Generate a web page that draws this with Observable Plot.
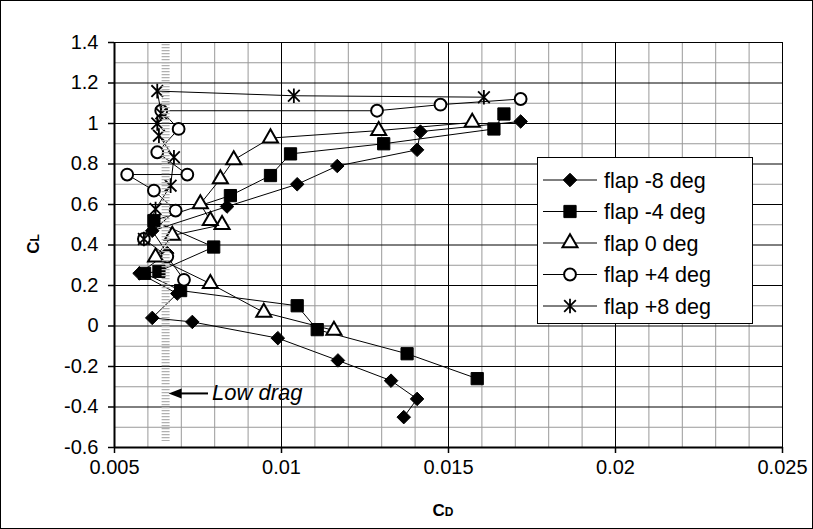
<!DOCTYPE html>
<html><head><meta charset="utf-8">
<script src="https://cdn.jsdelivr.net/npm/d3@7"></script>
<script src="https://cdn.jsdelivr.net/npm/@observablehq/plot@0.6"></script>
<style>
html,body{margin:0;padding:0;background:#fff;}
#wrap{position:relative;width:811px;height:527px;border:1px solid #000;overflow:hidden;background:#fff;}
#wrap svg{display:block;}
#legend{position:absolute;left:536px;top:156px;}
</style></head><body><div id="wrap"></div>
<script>
// ---- data ----
const seriesNames = ["flap -8 deg", "flap -4 deg", "flap 0 deg", "flap +4 deg", "flap +8 deg"];

const cdFlapM8 = [0.01366, 0.01406, 0.01328, 0.01169, 0.00989, 0.00733, 0.00613, 0.00688, 0.00575, 0.00658, 0.00613, 0.00837, 0.01047, 0.01167, 0.01406, 0.01416, 0.01716];
const clFlapM8 = [-0.45, -0.36, -0.27, -0.17, -0.06, 0.02, 0.04, 0.16, 0.26, 0.36, 0.47, 0.59, 0.70, 0.79, 0.87, 0.96, 1.01];

const cdFlapM4 = [0.01586, 0.01376, 0.01107, 0.01047, 0.00698, 0.00590, 0.00633, 0.00797, 0.00618, 0.00847, 0.00967, 0.01027, 0.01306, 0.01636, 0.01666];
const clFlapM4 = [-0.26, -0.137, -0.018, 0.10, 0.175, 0.26, 0.27, 0.39, 0.52, 0.644, 0.743, 0.85, 0.90, 0.973, 1.047];

const cdFlap0 = [0.01157, 0.00947, 0.00787, 0.00623, 0.00673, 0.00822, 0.00787, 0.00757, 0.00817, 0.00857, 0.00967, 0.01291, 0.01571];
const clFlap0 = [-0.022, 0.067, 0.209, 0.34, 0.447, 0.50, 0.52, 0.603, 0.726, 0.82, 0.928, 0.965, 1.005];

const cdFlapP4 = [0.00708, 0.00658, 0.00588, 0.00683, 0.00618, 0.00538, 0.00718, 0.00628, 0.00692, 0.00640, 0.01286, 0.01476, 0.01716];
const clFlapP4 = [0.228, 0.343, 0.43, 0.57, 0.669, 0.748, 0.748, 0.858, 0.973, 1.063, 1.063, 1.093, 1.121];

const cdFlapP8 = [0.00588, 0.00623, 0.00668, 0.00678, 0.00633, 0.00628, 0.00640, 0.00628, 0.01037, 0.01606];
const clFlapP8 = [0.43, 0.578, 0.693, 0.833, 0.94, 1.0, 1.05, 1.16, 1.137, 1.13];

const xTicks = [0.005, 0.01, 0.015, 0.02, 0.025];
const xTickLabels = ["0.005", "0.01", "0.015", "0.02", "0.025"];
const yTicks = [-0.6, -0.4, -0.2, 0, 0.2, 0.4, 0.6, 0.8, 1, 1.2, 1.4];
const yTickLabels = ["-0.6", "-0.4", "-0.2", "0", "0.2", "0.4", "0.6", "0.8", "1", "1.2", "1.4"];

const lowDragCD = [0.00653];
const lowDragTop = 1.39, lowDragBottom = -0.57;
const lowDragArrow = [{x1: 0.0078, x2: 0.00662, y: -0.333}];
const lowDragLabel = [{x: 0.00792, y: -0.333, text: "Low drag"}];

// ---- build ----
const cds = [cdFlapM8, cdFlapM4, cdFlap0, cdFlapP4, cdFlapP8];
const cls = [clFlapM8, clFlapM4, clFlap0, clFlapP4, clFlapP8];
const seriesRows = seriesNames.map((name, s) => cds[s].map((cd, i) => ({series: name, cd, cl: cls[s][i]})));

const starSymbol = {
  draw(ctx, size) {
    const r = Math.sqrt(size / Math.PI);
    const d = r * 0.8;
    ctx.moveTo(0, -r); ctx.lineTo(0, r);
    ctx.moveTo(-d, -d); ctx.lineTo(d, d);
    ctx.moveTo(-d, d); ctx.lineTo(d, -d);
  }
};
const arrowHead = {
  draw(ctx) {
    ctx.moveTo(0, 0); ctx.lineTo(13, -5); ctx.lineTo(13, 5); ctx.closePath();
  }
};

const markStyles = [
  {symbol: "diamond2", d3sym: d3.symbolDiamond2, fill: "black", stroke: "black", strokeWidth: 1, r: 6.1},
  {symbol: "square", d3sym: d3.symbolSquare, fill: "black", stroke: "black", strokeWidth: 1, r: 6.9},
  {symbol: "triangle", d3sym: d3.symbolTriangle, fill: "white", stroke: "black", strokeWidth: 2, r: 5.6},
  {symbol: "circle", d3sym: d3.symbolCircle, fill: "white", stroke: "black", strokeWidth: 2, r: 5.9},
  {symbol: starSymbol, d3sym: starSymbol, fill: "none", stroke: "black", strokeWidth: 1.8, r: 7.3}
];

const seriesMarks = seriesRows.flatMap((rows, s) => {
  const st = markStyles[s];
  return [
    Plot.line(rows, {x: "cd", y: "cl", stroke: "black", strokeWidth: 1}),
    Plot.dot(rows, {x: "cd", y: "cl", symbol: st.symbol, fill: st.fill, stroke: st.stroke, strokeWidth: st.strokeWidth, r: st.r})
  ];
});

const chart = Plot.plot({
  width: 811, height: 527,
  marginLeft: 113, marginRight: 30, marginTop: 41, marginBottom: 81,
  style: {fontFamily: "'Liberation Sans', Arial, sans-serif", fontSize: "20px", color: "black", background: "white"},
  x: {domain: [0.005, 0.025]},
  y: {domain: [-0.6, 1.4]},
  marks: [
    Plot.gridX(d3.range(0.006, 0.025, 0.001).filter(v => Math.abs(v / 0.005 - Math.round(v / 0.005)) > 1e-6), {stroke: "#999", strokeOpacity: 1, strokeWidth: 1}),
    Plot.gridY(d3.range(-0.5, 1.4, 0.2), {stroke: "#999", strokeOpacity: 1, strokeWidth: 1}),
    Plot.gridX(xTicks, {stroke: "#000", strokeOpacity: 1, strokeWidth: 1}),
    Plot.gridY(yTicks, {stroke: "#000", strokeOpacity: 1, strokeWidth: 1}),
    ...seriesMarks,
    Plot.ruleX(lowDragCD, {y1: lowDragTop, y2: lowDragBottom, stroke: "#b0b0b0", strokeWidth: 8, strokeDasharray: "1.3,1.7"}),
    Plot.link(lowDragArrow, {x1: "x1", x2: d => d.x2 + 0.0003, y1: "y", y2: "y", stroke: "black", strokeWidth: 2}),
    Plot.dot(lowDragArrow, {x: "x2", y: "y", symbol: arrowHead, fill: "black", stroke: "none"}),
    Plot.text(lowDragLabel, {x: "x", y: "y", text: "text", textAnchor: "start", fontStyle: "italic", fontSize: 22, fill: "black"}),
    Plot.axisX(xTicks, {tickSize: 6, tickPadding: 6, tickFormat: (d, i) => xTickLabels[i], label: null, fontSize: 20, strokeWidth: 1.5}),
    Plot.axisY(yTicks, {tickSize: 6, tickPadding: 10, tickFormat: (d, i) => yTickLabels[i], label: null, fontSize: 20, strokeWidth: 1.5}),
    Plot.ruleX([0.005], {stroke: "black", strokeWidth: 2}),
    Plot.ruleY([-0.6], {stroke: "black", strokeWidth: 2})
  ]
});

document.getElementById("wrap").appendChild(chart);

// axis titles
const svg = d3.select(chart);
const xt = svg.append("text").attr("x", 442).attr("y", 515).attr("text-anchor", "middle")
  .attr("font-family", "'Liberation Sans', Arial, sans-serif").attr("font-weight", "bold").attr("font-size", 17).attr("fill", "black");
xt.append("tspan").text("C");
xt.append("tspan").attr("font-size", 12).text("D");
const yt = svg.append("text").attr("transform", "translate(38,243) rotate(-90)").attr("text-anchor", "middle")
  .attr("font-family", "'Liberation Sans', Arial, sans-serif").attr("font-weight", "bold").attr("font-size", 17).attr("fill", "black");
yt.append("tspan").text("C");
yt.append("tspan").attr("font-size", 12).text("L");

// legend
const lw = 216, lh = 167;
const leg = d3.select("#wrap").append("svg").attr("id", "legend").attr("width", lw).attr("height", lh);
leg.append("rect").attr("x", 0.5).attr("y", 0.5).attr("width", lw - 1).attr("height", lh - 1).attr("fill", "white").attr("stroke", "black");
seriesNames.forEach((name, i) => {
  const st = markStyles[i];
  const cy = 23 + i * 31.5;
  const g = leg.append("g");
  g.append("line").attr("x1", 6).attr("x2", 60).attr("y1", cy).attr("y2", cy).attr("stroke", "black");
  g.append("path").attr("transform", `translate(33,${cy})`)
    .attr("d", d3.symbol(st.d3sym, Math.PI * st.r * st.r)())
    .attr("fill", st.fill).attr("stroke", st.stroke).attr("stroke-width", st.strokeWidth);
  g.append("text").attr("x", 67).attr("y", cy).attr("dy", "0.35em")
    .attr("font-family", "'Liberation Sans', Arial, sans-serif").attr("font-size", 21.5).attr("fill", "black").text(name);
});
</script></body></html>
